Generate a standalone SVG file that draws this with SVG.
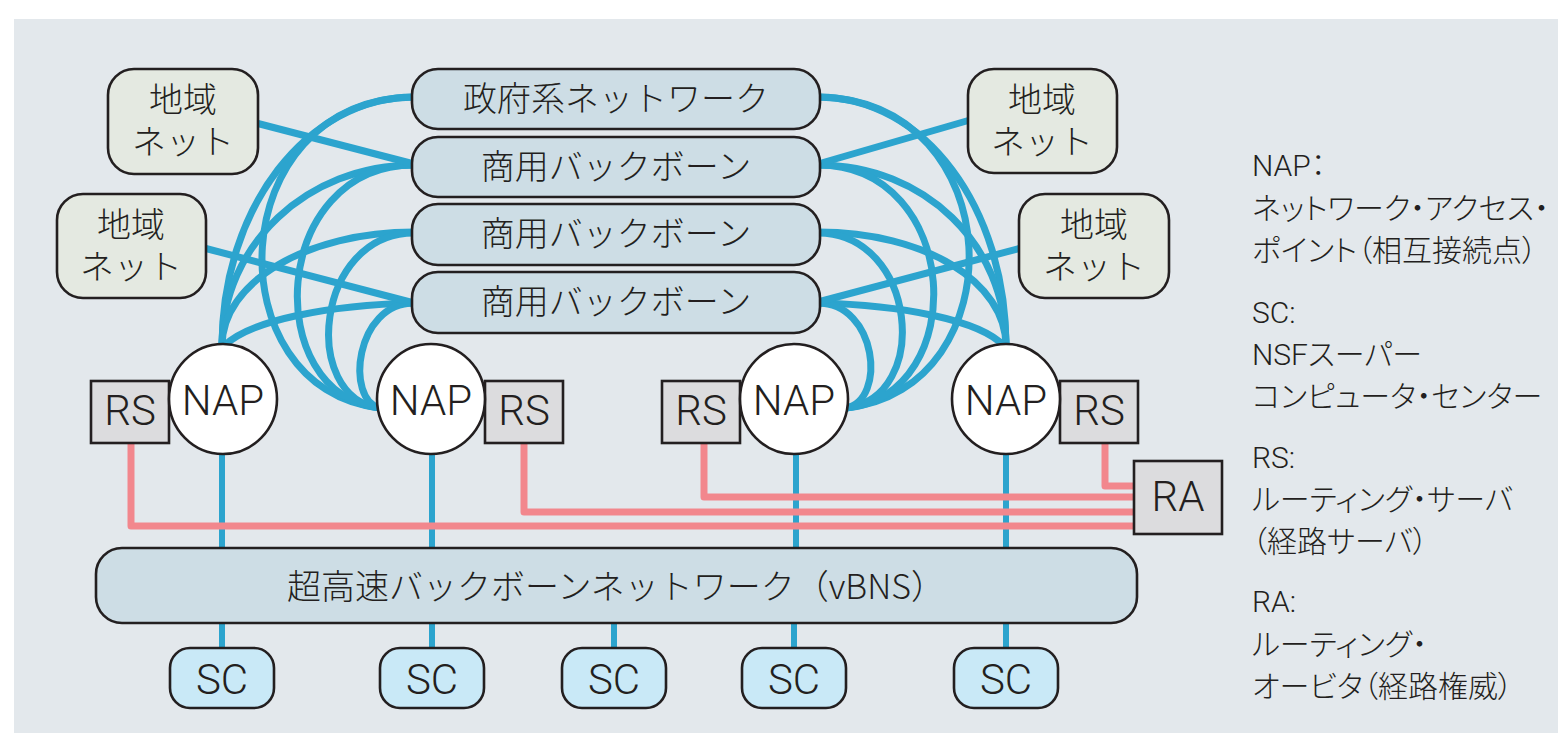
<svg xmlns="http://www.w3.org/2000/svg" width="1558" height="733" viewBox="0 0 1558 733">
<style>
.bl{fill:none;stroke:#2ca4ce;stroke-width:7}
.pk{fill:none;stroke:#f2878d;stroke-width:7;stroke-linejoin:round}
.vl{fill:none;stroke:#2ca4ce;stroke-width:6}
.bx{stroke:#231f20;stroke-width:2.6}
.net{fill:#cddde5}
.reg{fill:#e4e9e1}
.gr{fill:#dcdcde}
.sc{fill:#c9e9f7}
.nap{fill:#ffffff}
.jp{font-family:"Noto Sans CJK JP",sans-serif;font-weight:300;fill:#231f20;text-anchor:middle;font-size:34px}
.lt{font-family:Roboto,"Liberation Sans",sans-serif;font-weight:300;fill:#231f20;text-anchor:middle;font-size:42px}
.lg{font-family:Roboto,"Noto Sans CJK JP",sans-serif;font-weight:300;fill:#231f20;font-size:30px;font-feature-settings:"palt"}
</style>
<rect x="14" y="19" width="1544" height="714" fill="#e3e8ec"/>
<g id="connectors">
<path class="bl" d="M414,97 C307,97 222,208 222,346"/>
<path class="bl" d="M414,165 C307,165 222,245 222,346"/>
<path class="bl" d="M414,232 C307,232 222,282 222,346"/>
<path class="bl" d="M414,303 C330,305 250,320 224,346"/>
<path class="bl" d="M414,97 C220,100 215,390 380,408"/>
<path class="bl" d="M414,165 C270,165 260,395 380,408"/>
<path class="bl" d="M414,233 C315,233 300,398 380,408"/>
<path class="bl" d="M414,303 C355,303 345,400 380,408"/>
<path class="bl" d="M818,97 C925,97 1006,208 1006,346"/>
<path class="bl" d="M818,165 C925,165 1006,245 1006,346"/>
<path class="bl" d="M818,232 C925,232 1006,282 1006,346"/>
<path class="bl" d="M818,303 C902,305 980,320 1004,346"/>
<path class="bl" d="M818,97 C1012,100 1017,390 846,408"/>
<path class="bl" d="M818,165 C962,165 972,395 846,408"/>
<path class="bl" d="M818,233 C917,233 932,398 846,408"/>
<path class="bl" d="M818,303 C877,303 887,400 846,408"/>
<path class="bl" d="M256,123 L414,164"/>
<path class="bl" d="M204,248 L414,303"/>
<path class="bl" d="M970,120 L818,164"/>
<path class="bl" d="M1021,248 L818,302"/>
<path class="vl" d="M222,452 V550"/>
<path class="vl" d="M432,452 V550"/>
<path class="vl" d="M796,452 V550"/>
<path class="vl" d="M1006,452 V550"/>
<path class="vl" d="M222,621 V650"/>
<path class="vl" d="M432,621 V650"/>
<path class="vl" d="M614,621 V650"/>
<path class="vl" d="M794,621 V650"/>
<path class="vl" d="M1006,621 V650"/>
<path class="pk" d="M131,443 V526 H1136"/>
<path class="pk" d="M524,443 V512 H1136"/>
<path class="pk" d="M704,443 V497 H1136"/>
<path class="pk" d="M1105,443 V486 H1136"/>
</g>
<g id="gov"><rect class="bx net" x="412" y="69" width="408" height="60" rx="26"/><text class="jp" x="616" y="111">政府系ネットワーク</text></g>
<g id="com1"><rect class="bx net" x="412" y="137" width="408" height="60" rx="26"/><text class="jp" x="616" y="179">商用バックボーン</text></g>
<g id="com2"><rect class="bx net" x="412" y="204" width="408" height="61" rx="26"/><text class="jp" x="616" y="246">商用バックボーン</text></g>
<g id="com3"><rect class="bx net" x="412" y="272" width="408" height="61" rx="26"/><text class="jp" x="616" y="314">商用バックボーン</text></g>
<g id="reg1"><rect class="bx reg" x="108" y="69" width="150" height="105" rx="26"/><text class="jp"><tspan x="183" y="112">地域</tspan><tspan x="183" y="154">ネット</tspan></text></g>
<g id="reg2"><rect class="bx reg" x="57" y="194" width="149" height="104" rx="26"/><text class="jp"><tspan x="131" y="237">地域</tspan><tspan x="131" y="279">ネット</tspan></text></g>
<g id="reg3"><rect class="bx reg" x="968" y="69" width="149" height="104" rx="26"/><text class="jp"><tspan x="1042" y="112">地域</tspan><tspan x="1042" y="154">ネット</tspan></text></g>
<g id="reg4"><rect class="bx reg" x="1019" y="194" width="150" height="104" rx="26"/><text class="jp"><tspan x="1094" y="237">地域</tspan><tspan x="1094" y="279">ネット</tspan></text></g>
<g id="rs1"><rect class="bx gr" x="91" y="381" width="78" height="62"/><text class="lt" x="130" y="425">RS</text></g>
<g id="rs2"><rect class="bx gr" x="485" y="381" width="78" height="62"/><text class="lt" x="524" y="425">RS</text></g>
<g id="rs3"><rect class="bx gr" x="662" y="381" width="78" height="62"/><text class="lt" x="701" y="425">RS</text></g>
<g id="rs4"><rect class="bx gr" x="1060" y="381" width="78" height="62"/><text class="lt" x="1099" y="425">RS</text></g>
<g id="nap1"><ellipse class="bx nap" cx="223" cy="399" rx="54" ry="55"/><text class="lt" x="223" y="415">NAP</text></g>
<g id="nap2"><ellipse class="bx nap" cx="431" cy="399" rx="54" ry="55"/><text class="lt" x="431" y="415">NAP</text></g>
<g id="nap3"><ellipse class="bx nap" cx="794" cy="399" rx="54" ry="55"/><text class="lt" x="794" y="415">NAP</text></g>
<g id="nap4"><ellipse class="bx nap" cx="1006" cy="399" rx="54" ry="55"/><text class="lt" x="1006" y="415">NAP</text></g>
<g id="ra"><rect class="bx gr" x="1134" y="461" width="88" height="73"/><text class="lt" x="1178" y="511">RA</text></g>
<g id="vbns"><rect class="bx net" x="96" y="548" width="1041" height="75" rx="26"/><text class="jp" x="616" y="599">超高速バックボーンネットワーク（vBNS）</text></g>
<g id="sc1"><rect class="bx sc" x="170" y="648" width="104" height="60" rx="20"/><text class="lt" x="222" y="694">SC</text></g>
<g id="sc2"><rect class="bx sc" x="380" y="648" width="104" height="60" rx="20"/><text class="lt" x="432" y="694">SC</text></g>
<g id="sc3"><rect class="bx sc" x="562" y="648" width="104" height="60" rx="20"/><text class="lt" x="614" y="694">SC</text></g>
<g id="sc4"><rect class="bx sc" x="742" y="648" width="104" height="60" rx="20"/><text class="lt" x="794" y="694">SC</text></g>
<g id="sc5"><rect class="bx sc" x="954" y="648" width="104" height="60" rx="20"/><text class="lt" x="1006" y="694">SC</text></g>
<g id="legend">
<text class="lg" x="1252" y="176">NAP：</text>
<text class="lg" x="1252" y="219">ネットワーク・アクセス・</text>
<text class="lg" x="1252" y="261">ポイント（相互接続点）</text>
<text class="lg" x="1252" y="323">SC:</text>
<text class="lg" x="1252" y="365">NSFスーパー</text>
<text class="lg" x="1252" y="407">コンピュータ・センター</text>
<text class="lg" x="1252" y="468">RS:</text>
<text class="lg" x="1252" y="510">ルーティング・サーバ</text>
<text class="lg" x="1252" y="552">（経路サーバ）</text>
<text class="lg" x="1252" y="612">RA:</text>
<text class="lg" x="1252" y="655">ルーティング・</text>
<text class="lg" x="1252" y="697">オービタ（経路権威）</text>
</g>
</svg>
